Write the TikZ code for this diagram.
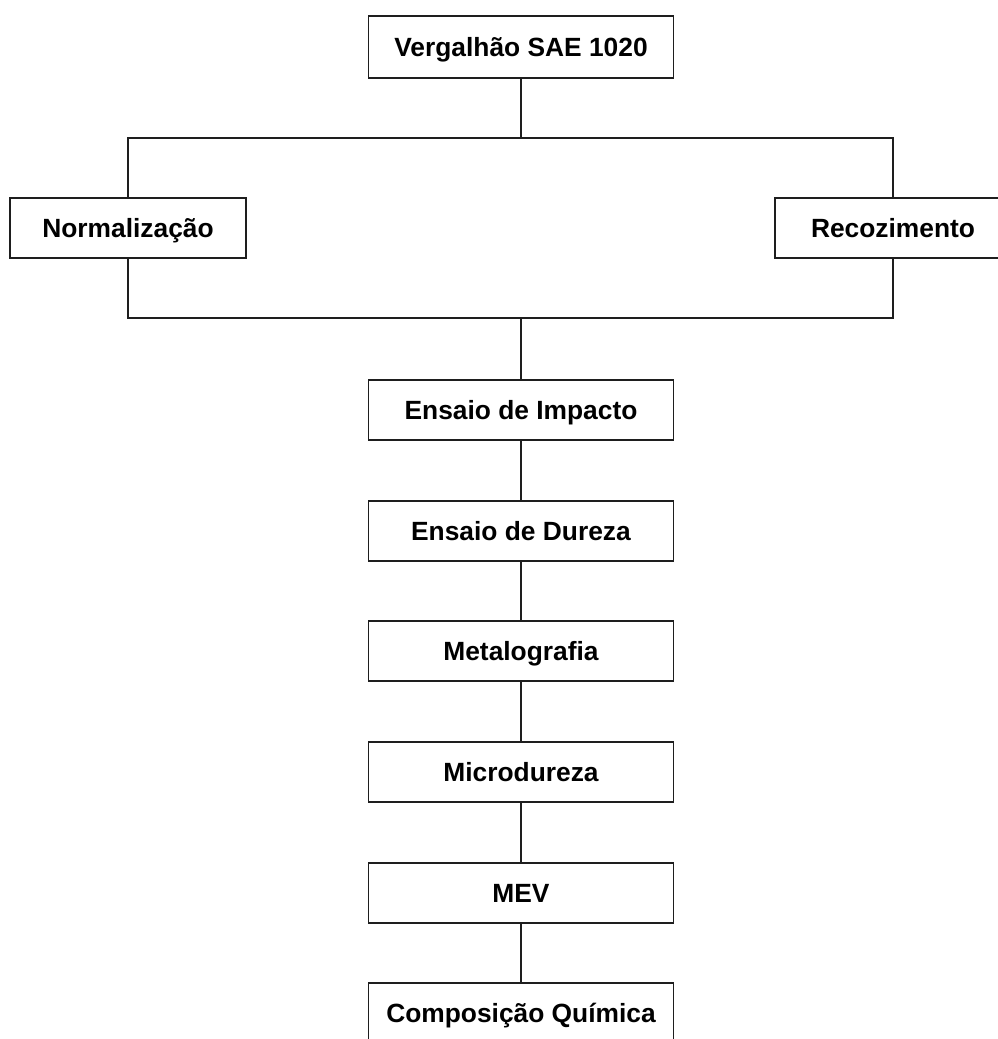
\documentclass[tikz,border=0pt]{standalone}
\usepackage{fontspec}
\usepackage{xcolor}
\usepackage{tikz}
\usetikzlibrary{positioning}
\setmainfont{Liberation Sans}
\definecolor{boxLine}{RGB}{30,30,30}

\begin{document}
\begin{tikzpicture}[x=0.02cm, y=-0.02cm,
  etapa/.style={draw=boxLine, line width=1.1pt, fill=white, minimum height=1.2cm,
    inner sep=0pt, text height=10.8pt, text depth=0pt,
    font=\fontsize{15}{18}\selectfont\bfseries},
  largo/.style={etapa, minimum width=6.1cm},
  lado/.style={etapa, minimum width=4.72cm},
  fio/.style={boxLine, line width=1.1pt}]
\useasboundingbox (0,0) rectangle (998,1039);
\clip (0,0) rectangle (998,1039);
% topo
\node[largo, minimum height=1.24cm] (verg) at (521,47) {Vergalhão SAE 1020};
% tratamentos
\node[lado] (norm) at (128,228) {Normalização};
\node[lado] (recoz) at (893,228) {Recozimento};
\coordinate (split) at (521,138);
\coordinate (join) at (521,318);
% ensaios
\node[largo] (impacto) at (521,410) {Ensaio de Impacto};
\node[largo, below=1.175cm of impacto] (dureza) {Ensaio de Dureza};
\node[largo, below=1.175cm of dureza] (metal) {Metalografia};
\node[largo, below=1.175cm of metal] (micro) {Microdureza};
\node[largo, below=1.175cm of micro] (mev) {MEV};
\node[largo, below=1.175cm of mev] (quim) {Composição Química};
% ligacoes
\draw[fio] (verg) -- (split);
\draw[fio] (norm.north) |- (split) -| (recoz.north);
\draw[fio] (norm.south) |- (join) -| (recoz.south);
\draw[fio] (join) -- (impacto);
\foreach \a/\b in {impacto/dureza, dureza/metal, metal/micro, micro/mev, mev/quim}
  \draw[fio] (\a) -- (\b);
\end{tikzpicture}
\end{document}
